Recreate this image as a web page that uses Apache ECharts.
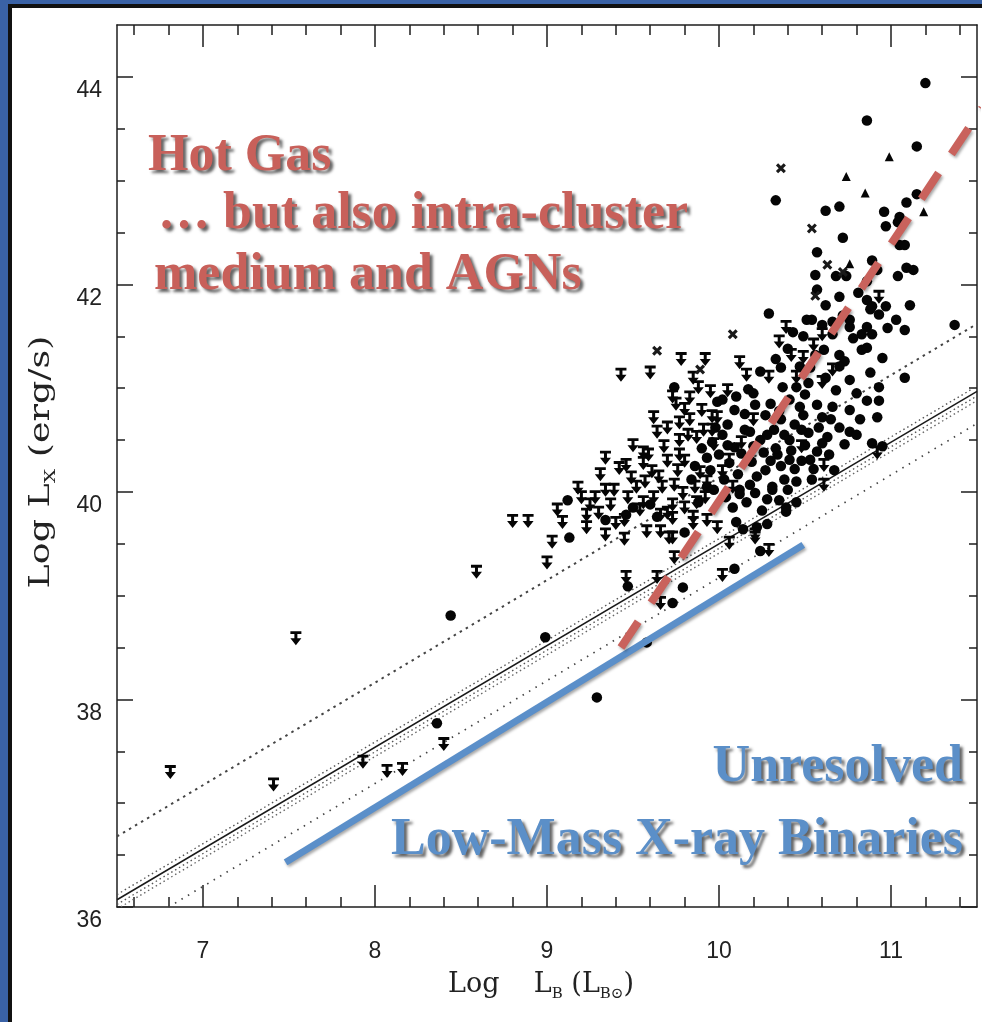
<!DOCTYPE html>
<html>
<head>
<meta charset="utf-8">
<script src="https://cdn.jsdelivr.net/npm/echarts@6/dist/echarts.min.js"></script>
<style>
  html, body { margin: 0; padding: 0; background: #ffffff; }
  #chart { width: 982px; height: 1022px; }
</style>
</head>
<body>
<div id="chart"></div>
<script>
// ---- axis ticks ----
const xMajorTicks = [7, 8, 9, 10, 11];
const xMinorTicks = [6.6, 6.8, 7.2, 7.4, 7.6, 7.8, 8.2, 8.4, 8.6, 8.8, 9.2, 9.4, 9.6, 9.8,
                     10.2, 10.4, 10.6, 10.8, 11.2, 11.4];
const yMajorTicks = [36, 38, 40, 42, 44];
const yMinorTicks = [36.5, 37, 37.5, 38.5, 39, 39.5, 40.5, 41, 41.5, 42.5, 43, 43.5];

// ---- galaxies: [log L_B, log L_X] ----
// detections (filled circles)
const detections = [
  [8.44, 38.81], [8.36, 37.77], [8.99, 38.60], [9.29, 38.02], [9.12, 39.92], [9.13, 39.56],
  [9.34, 39.73], [9.46, 39.78], [9.50, 39.85], [9.64, 39.76], [9.60, 39.88], [9.47, 39.09],
  [9.58, 38.55], [9.73, 38.93], [9.79, 39.08], [10.09, 39.26], [10.24, 39.43], [10.14, 39.64],
  [10.10, 39.71], [10.28, 39.69], [10.39, 39.81], [9.80, 39.61], [9.74, 41.01], [9.99, 40.87],
  [9.88, 39.90], [9.93, 40.05], [10.12, 40.02], [10.31, 40.02], [10.45, 39.90],
  [10.29, 41.72], [11.11, 41.80], [11.37, 41.61], [10.54, 41.66], [10.60, 41.61], [10.66, 41.64],
  [10.88, 41.76], [10.93, 41.71], [10.97, 41.79], [11.03, 41.66], [11.08, 41.56], [10.86, 41.59],
  [10.89, 41.52], [10.76, 41.59], [10.83, 41.52], [10.66, 41.52], [10.49, 41.50], [10.43, 41.54],
  [10.36, 41.20], [10.47, 41.21], [10.53, 41.20], [10.70, 41.32], [10.73, 41.26], [10.70, 41.21],
  [10.83, 41.37], [10.86, 41.39], [10.95, 41.29], [10.17, 40.99], [10.37, 41.01], [10.45, 41.01],
  [10.80, 40.95], [10.93, 41.01], [10.93, 40.88], [10.92, 40.72], [10.66, 40.82], [10.57, 40.84],
  [10.49, 40.74], [10.60, 40.72], [10.70, 40.62], [10.76, 40.58], [10.63, 40.53], [10.52, 40.57],
  [10.57, 40.39], [10.89, 40.47], [10.95, 40.44], [10.41, 40.31], [10.34, 40.36], [10.67, 40.21],
  [10.54, 40.12], [10.45, 40.10], [10.39, 39.85], [10.28, 39.93], [10.31, 40.05], [10.21, 39.99],
  [10.22, 39.66], [10.02, 40.89],
  [10.05, 40.65], [10.15, 40.60], [10.24, 40.50], [10.09, 40.43], [10.00, 40.36], [10.19, 40.29],
  [10.27, 40.21], [10.11, 40.17], [10.03, 40.12], [10.18, 40.07], [9.95, 40.21], [10.27, 40.74],
  [10.32, 40.60], [10.41, 40.50], [10.21, 40.84], [10.09, 40.79], [10.24, 41.16], [10.41, 40.89],
  [10.50, 40.94], [10.36, 40.70], [10.44, 40.65], [10.64, 40.36], [10.73, 40.46], [10.53, 40.31],
  [10.76, 40.79], [10.82, 40.70], [10.76, 41.08], [10.61, 41.37], [10.56, 41.32], [11.08, 41.10],
  [9.97, 40.02], [10.04, 39.95], [10.16, 39.90], [10.06, 40.28], [10.13, 40.37], [10.20, 40.44],
  [9.93, 40.33], [10.33, 40.42], [10.25, 39.82], [10.35, 39.92], [9.96, 40.48], [10.30, 40.30],
  [10.02, 40.55], [10.44, 40.22], [10.38, 40.12], [10.50, 40.45],
  [10.08, 39.85], [10.22, 40.15], [10.36, 40.25], [10.48, 40.30], [10.40, 40.02], [10.15, 40.75],
  [10.30, 40.85], [10.47, 40.82], [10.58, 40.62], [10.65, 40.70], [10.55, 40.22], [10.60, 40.47],
  [10.12, 39.98], [10.05, 40.45], [10.28, 40.55], [10.42, 40.40], [10.35, 40.78], [10.20, 40.95],
  [10.10, 40.92], [10.26, 40.38], [10.18, 40.58], [9.98, 40.62], [10.38, 40.55], [10.48, 40.60],
  [10.62, 41.10], [10.52, 41.05], [10.68, 40.98], [10.88, 41.15], [10.78, 41.48], [10.98, 41.58],
  [10.40, 41.38], [10.33, 41.28], [10.72, 41.70], [10.62, 41.80], [10.86, 40.88], [10.80, 40.55],
  [9.86, 40.25], [9.90, 40.42], [9.84, 40.12],
  [11.20, 43.94], [10.86, 43.58], [11.15, 43.33], [10.33, 42.81], [11.15, 42.87], [11.09, 42.79],
  [10.62, 42.71], [10.70, 42.75], [10.96, 42.70], [11.05, 42.65], [11.04, 42.60], [10.97, 42.56],
  [10.72, 42.45], [11.05, 42.38], [11.08, 42.38], [10.57, 42.31], [10.89, 42.23], [10.92, 42.14],
  [11.09, 42.16], [11.13, 42.14], [10.56, 42.09], [10.68, 42.08], [10.74, 42.08], [11.04, 42.08],
  [10.86, 42.03], [10.57, 41.95], [10.70, 41.88], [10.81, 41.92], [10.86, 41.85], [10.89, 41.79],
  [10.76, 41.66], [10.51, 41.66]
];

// upper limits (bar + down arrow)
const upperLimits = [
  [6.81, 37.30], [7.41, 37.18], [7.54, 38.59], [7.93, 37.40], [8.07, 37.31], [8.16, 37.33],
  [8.40, 37.57], [8.59, 39.23], [8.80, 39.72], [8.89, 39.72], [9.00, 39.32], [9.03, 39.52],
  [9.06, 39.83], [9.09, 39.71], [9.18, 40.04], [9.23, 39.66], [9.25, 39.88], [9.23, 39.78],
  [9.28, 39.95], [9.31, 40.17], [9.34, 40.33], [9.34, 40.02], [9.34, 39.59], [9.42, 40.23],
  [9.46, 40.26], [9.43, 41.13], [9.60, 41.15], [9.56, 40.28], [9.59, 40.36], [9.61, 40.20],
  [9.57, 40.10], [9.64, 40.58], [9.68, 40.44], [9.73, 40.92], [9.77, 40.67], [9.77, 40.50],
  [9.77, 40.36], [9.76, 40.21], [9.74, 40.07], [9.73, 39.88], [9.71, 39.56], [9.78, 41.28],
  [9.92, 41.28], [9.83, 40.91], [9.88, 41.01], [9.95, 40.97], [9.96, 40.73], [9.96, 40.60],
  [9.87, 40.53], [9.91, 40.60], [9.89, 40.19], [9.86, 40.05], [9.85, 39.76], [9.93, 39.73],
  [9.87, 39.90], [9.79, 39.99], [9.56, 39.90], [9.54, 39.83], [9.45, 39.73], [9.66, 39.78],
  [9.70, 39.80], [9.73, 39.75], [9.85, 39.70], [9.99, 39.66], [10.06, 39.51], [10.21, 39.56],
  [10.29, 39.44], [10.02, 39.20], [9.66, 38.93], [9.74, 39.37], [9.73, 39.56], [9.46, 39.18],
  [9.64, 39.18], [10.16, 41.13], [10.29, 41.11], [10.39, 41.59], [10.42, 41.32], [10.49, 41.30],
  [10.60, 41.52], [10.66, 41.18], [10.45, 41.11], [10.60, 41.06], [10.48, 40.44], [10.92, 40.38],
  [10.61, 40.26], [10.61, 40.07], [10.21, 39.59], [10.93, 41.88], [9.90, 40.79], [9.99, 40.72],
  [10.13, 40.48], [10.06, 40.31], [9.97, 40.46], [9.83, 40.70], [9.56, 40.38], [9.37, 39.88],
  [9.39, 40.02], [9.49, 40.14],
  [9.47, 39.95], [9.52, 40.05], [9.62, 39.95], [9.67, 40.05], [9.70, 40.30], [9.80, 40.80],
  [9.82, 40.55], [9.75, 40.85], [9.65, 40.15], [9.50, 40.45], [9.58, 39.62], [9.66, 39.62],
  [9.80, 39.85], [9.92, 39.95], [9.45, 39.55], [9.40, 39.70], [9.30, 39.80], [9.20, 39.95],
  [9.62, 40.72], [9.70, 40.62], [9.85, 41.10], [10.05, 40.98], [10.12, 41.25], [10.20, 40.70],
  [10.02, 40.20], [9.93, 40.10], [10.08, 40.05], [9.80, 40.30], [10.55, 41.42], [10.35, 41.45]
];

// other symbols
const crossPoints = [
  [10.36, 43.12], [10.54, 42.54], [10.63, 42.19], [10.56, 41.89], [10.08, 41.52], [9.64, 41.36],
  [9.89, 41.18], [10.72, 42.12]
];
const trianglePoints = [
  [10.99, 43.23], [10.74, 43.04], [10.85, 42.88], [11.19, 42.70], [10.76, 42.20]
];

// ---- reference relations: line endpoints [log L_B, log L_X] ----
const meanRelation = [[6.5, 36.07], [11.5, 40.97]];
const bandAbove = [[6.5, 36.12], [11.5, 41.02]];
const bandBelow1 = [[6.5, 36.025], [11.5, 40.925]];
const bandBelow2 = [[6.5, 35.98], [11.5, 40.88]];
const upperRelation = [[6.5, 36.68], [11.5, 41.62]];
const lowerRelation = [[6.8, 36.0], [11.5, 40.66]];

// ---- annotation guides ----
const lmxbGuide = [[7.48, 36.43], [10.49, 39.49]];
const hotGasGuide = [[9.43, 38.50], [11.53, 43.70]];

const ink = '#1e1e1e';
const redText = '#c8605a';
const blueText = '#5b8fc8';

// upper-limit glyph: bar, stem and a down-pointing head
const arrowPath = 'path://M0,0L11,0L11,2.8L7,2.8L7,7L11,7L5.5,14L0,7L4,7L4,2.8L0,2.8Z';
const crossPath = 'path://M0,2.2L2.2,0L5,2.8L7.8,0L10,2.2L7.2,5L10,7.8L7.8,10L5,7.2L2.2,10L0,7.8L2.8,5Z';

function xAxisDef(position, ticks, len, showLine, showLabels) {
  return {
    type: 'value', gridIndex: 0, position: position, min: 6.5, max: 11.5,
    axisLine: { show: showLine, onZero: false, lineStyle: { color: ink, width: 1.5 } },
    axisTick: { show: true, inside: true, length: len, customValues: ticks,
                lineStyle: { color: ink, width: 1.5 } },
    axisLabel: showLabels
      ? { show: true, customValues: ticks, margin: 33, fontFamily: 'Liberation Sans',
          fontSize: 23, color: '#222' }
      : { show: false },
    splitLine: { show: false }
  };
}
function yAxisDef(position, ticks, len, showLine, showLabels) {
  return {
    type: 'value', gridIndex: 0, position: position, min: 36, max: 44.5,
    axisLine: { show: showLine, onZero: false, lineStyle: { color: ink, width: 1.5 } },
    axisTick: { show: true, inside: true, length: len, customValues: ticks,
                lineStyle: { color: ink, width: 1.5 } },
    axisLabel: showLabels
      ? { show: true, customValues: ticks, margin: 15, fontFamily: 'Liberation Sans',
          fontSize: 23, color: '#222', verticalAlign: 'top', lineHeight: 28 }
      : { show: false },
    splitLine: { show: false }
  };
}

function relation(data, style) {
  return {
    type: 'line', data: data, showSymbol: false, symbol: 'none', silent: true, z: 1,
    lineStyle: style
  };
}

function points(data, symbol, size, color) {
  return {
    type: 'scatter', data: data, symbol: symbol, symbolSize: size, z: 3, silent: true,
    itemStyle: { color: color, opacity: 1 }
  };
}

function annotation(text, x, y, align, color) {
  return {
    type: 'text', x: x, y: y, z: 12,
    style: {
      text: text, font: 'bold 52px "Liberation Serif"', fill: color,
      align: align, verticalAlign: 'middle',
      textShadowColor: 'rgba(15,15,15,0.65)', textShadowBlur: 3,
      textShadowOffsetX: 3, textShadowOffsetY: 3
    }
  };
}

const chart = echarts.init(document.getElementById('chart'), null, { renderer: 'canvas' });

chart.setOption({
  animation: false,
  backgroundColor: '#ffffff',
  grid: { left: 117, top: 25, width: 860, height: 882, outerBoundsMode: 'none' },
  xAxis: [
    xAxisDef('bottom', xMajorTicks, 22, true, true),
    xAxisDef('bottom', xMinorTicks, 10, false, false),
    xAxisDef('top', xMajorTicks, 22, true, false),
    xAxisDef('top', xMinorTicks, 10, false, false)
  ],
  yAxis: [
    yAxisDef('left', yMajorTicks, 16, true, true),
    yAxisDef('left', yMinorTicks, 8, false, false),
    yAxisDef('right', yMajorTicks, 16, true, false),
    yAxisDef('right', yMinorTicks, 8, false, false)
  ],
  series: [
    relation(upperRelation, { color: '#444', width: 2, type: [2.5, 4.5] }),
    relation(bandAbove, { color: '#555', width: 1.4, type: [1.5, 3] }),
    relation(bandBelow1, { color: '#555', width: 1.4, type: [1.5, 3] }),
    relation(bandBelow2, { color: '#666', width: 1.4, type: [1.5, 3] }),
    relation(meanRelation, { color: '#1a1a1a', width: 1.5, type: 'solid' }),
    relation(lowerRelation, { color: '#444', width: 1.7, type: [1.5, 6] }),
    points(detections, 'circle', 10.5, '#050505'),
    points(upperLimits, arrowPath, [11, 14], '#050505'),
    points(crossPoints, crossPath, 10, '#1a1a1a'),
    points(trianglePoints, 'triangle', 9, '#050505'),
    {
      type: 'line', data: lmxbGuide, showSymbol: false, symbol: 'none', silent: true, z: 6,
      clip: false,
      lineStyle: { color: '#5b8fc9', width: 7, cap: 'butt',
                   shadowColor: 'rgba(0,0,0,0.35)', shadowBlur: 3, shadowOffsetX: 1.5, shadowOffsetY: 2 }
    },
    {
      type: 'line', data: hotGasGuide, showSymbol: false, symbol: 'none', silent: true, z: 6,
      clip: false,
      lineStyle: { color: '#c9625c', width: 8, type: [31, 23], cap: 'butt',
                   shadowColor: 'rgba(0,0,0,0.35)', shadowBlur: 3, shadowOffsetX: 1.5, shadowOffsetY: 2 }
    }
  ],
  graphic: {
    elements: [
      // slide frame
      { type: 'rect', shape: { x: 0, y: 0, width: 8, height: 1022 }, style: { fill: '#3a62a6' }, z: 20 },
      { type: 'rect', shape: { x: 0, y: 0, width: 982, height: 4 }, style: { fill: '#3a62a6' }, z: 20 },
      { type: 'rect', shape: { x: 8, y: 4, width: 4, height: 1018 }, style: { fill: '#111' }, z: 20 },
      { type: 'rect', shape: { x: 8, y: 4, width: 974, height: 4 }, style: { fill: '#111' }, z: 20 },
      // axis titles
      {
        type: 'text', x: 541, y: 985, z: 10,
        style: {
          text: '{a|Log}    {a|L}{b|B} {a|(L}{b|B⊙}{a|)}',
          font: '27px "DejaVu Serif"', fill: '#222', align: 'center', verticalAlign: 'middle',
          rich: {
            a: { fontFamily: 'DejaVu Serif', fontSize: 27, fill: '#222', lineHeight: 34, verticalAlign: 'middle' },
            b: { fontFamily: 'DejaVu Serif', fontSize: 15, fill: '#222', lineHeight: 34, verticalAlign: 'bottom' }
          }
        }
      },
      {
        type: 'text', x: 42, y: 462, rotation: Math.PI / 2, scaleX: 1.35, z: 10,
        style: {
          text: '{a|Log} {a|L}{b|X} {a|(erg/s)}',
          font: '27px "DejaVu Serif"', fill: '#222', align: 'center', verticalAlign: 'middle',
          rich: {
            a: { fontFamily: 'DejaVu Serif', fontSize: 27, fill: '#222', lineHeight: 34, verticalAlign: 'middle' },
            b: { fontFamily: 'DejaVu Serif', fontSize: 15, fill: '#222', lineHeight: 34, verticalAlign: 'bottom' }
          }
        }
      },
      // annotations
      annotation('Hot Gas', 148, 157, 'left', redText),
      annotation('… but also intra-cluster', 158, 215, 'left', redText),
      annotation('medium and AGNs', 154, 276, 'left', redText),
      annotation('Unresolved', 963, 768, 'right', blueText),
      annotation('Low-Mass X-ray Binaries', 963, 841, 'right', blueText)
    ]
  }
});
</script>
</body>
</html>
